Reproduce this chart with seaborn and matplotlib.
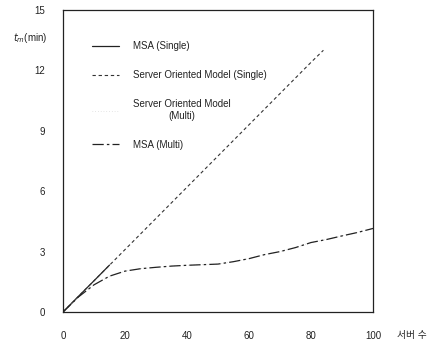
import matplotlib
matplotlib.use("Agg")
import matplotlib.pyplot as plt
import seaborn as sns
import pandas as pd

# ---- data ----
msa_single_x = [0, 5, 10, 15]
msa_single_y = [0, 0.78, 1.55, 2.33]

som_single_x = [0, 10, 20, 30, 40, 50, 60, 70, 80, 84]
som_single_y = [0, 1.55, 3.1, 4.65, 6.2, 7.75, 9.3, 10.85, 12.4, 13.0]

multi_x = [0, 5, 10, 15, 20, 25, 30, 35, 40, 45, 50, 55, 60, 65, 70, 75, 80, 85, 90, 95, 100]
msa_multi_y = [0, 0.75, 1.35, 1.78, 2.03, 2.15, 2.22, 2.28, 2.32, 2.35, 2.38, 2.5, 2.65,
               2.85, 3.0, 3.2, 3.45, 3.6, 3.78, 3.95, 4.15]
som_multi_y = [0, 0.75, 1.35, 1.78, 2.03, 2.15, 2.22, 2.28, 2.32, 2.35, 2.38, 2.5, 2.65,
               2.85, 3.0, 3.2, 3.45, 3.6, 3.78, 3.95, 4.15]

labels = ["MSA (Single)", "Server Oriented Model (Single)",
          "Server Oriented Model\n(Multi)", "MSA (Multi)"]
x_ticks = [0, 20, 40, 60, 80, 100]
y_ticks = [0, 3, 6, 9, 12, 15]
x_label = "서버 수"
y_label = "$t_m$(min)"

sns.set_style("white")
plt.rcParams['font.family'] = ['Liberation Sans', 'Noto Sans CJK KR', 'DejaVu Sans']

fig = plt.figure(figsize=(4.30, 3.42), dpi=100)
ax = fig.add_axes([63/430, 1 - 312/342, (373-63)/430, (312-10)/342])

sns.lineplot(x=msa_single_x, y=msa_single_y, ax=ax, color="#222222", lw=0.9,
             label=labels[0])
sns.lineplot(x=som_single_x, y=som_single_y, ax=ax, color="#333333", lw=0.8,
             linestyle=(0, (3, 2.5)), label=labels[1])
sns.lineplot(x=multi_x, y=som_multi_y, ax=ax, color="#cccccc", lw=0.5,
             linestyle=(0, (1, 3)), label=labels[2])
sns.lineplot(x=multi_x, y=msa_multi_y, ax=ax, color="#222222", lw=0.9,
             linestyle=(0, (9, 2.5, 2, 2.5)), label=labels[3])

ax.set_xlim(0, 100)
ax.set_ylim(0, 15)
ax.set_xticks(x_ticks)
ax.set_yticks(y_ticks)
ax.tick_params(axis="both", length=0, labelsize=7, colors="#222222")
ax.tick_params(axis="y", pad=13)
ax.tick_params(axis="x", pad=14)
for s in ax.spines.values():
    s.set_visible(True)
    s.set_color("#222222")
    s.set_linewidth(0.9)

ax.set_xlabel(x_label, fontsize=7, color="#222222")
ax.xaxis.set_label_coords(1.125, -0.058)
ax.set_ylabel(y_label, fontsize=7, rotation=0, color="#222222")
ax.yaxis.set_label_coords(-0.105, 0.885)

leg = ax.legend(frameon=False, loc="upper left", bbox_to_anchor=(0.065, 0.925),
                fontsize=7, handlelength=2.8, handletextpad=1.4, labelspacing=1.95)
for t in leg.get_texts():
    t.set_multialignment("center")
    t.set_color("#222222")

fig.savefig("out.png", dpi=100)
